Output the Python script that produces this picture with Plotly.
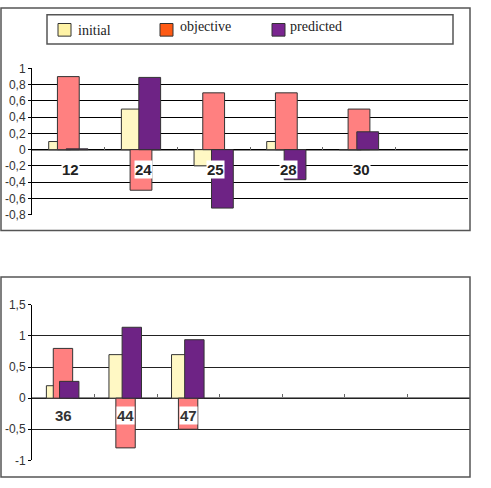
import plotly.graph_objects as go

W, H = 491, 488

# ---- data ----
cats_top = ["12", "24", "25", "28", "30"]
initial_top = [0.1, 0.5, -0.2, 0.1, 0.0]
objective_top = [0.9, -0.5, 0.7, 0.7, 0.5]
predicted_top = [0.01, 0.89, -0.72, -0.37, 0.22]

cats_bot = ["36", "44", "47"]
initial_bot = [0.2, 0.7, 0.7]
objective_bot = [0.8, -0.8, -0.5]
predicted_bot = [0.27, 1.14, 0.94]

ytick_top_vals = [1, 0.8, 0.6, 0.4, 0.2, 0, -0.2, -0.4, -0.6, -0.8]
ytick_top_text = ["1", "0,8", "0,6", "0,4", "0,2", "0", "-0,2", "-0,4", "-0,6", "-0,8"]
ytick_bot_vals = [1.5, 1, 0.5, 0, -0.5, -1]
ytick_bot_text = ["1,5", "1", "0,5", "0", "-0,5", "-1"]

series_names = ["initial", "objective", "predicted"]
bar_colors = ["#FFF8C4", "#FF8080", "#6E2385"]
legend_colors = ["#FFF3A6", "#FF5A14", "#7A2590"]


def px_x(p):
    return p / W


def px_y(p):
    return 1 - p / H


fig = go.Figure()

top_series = [initial_top, objective_top, predicted_top]
bot_series = [initial_bot, objective_bot, predicted_bot]
offs_top = [-0.27, -0.15, -0.03]
offs_bot = [-0.27, -0.16, -0.06]

for i, name in enumerate(series_names):
    fig.add_trace(go.Bar(
        x=cats_top, y=top_series[i], name=name, xaxis="x", yaxis="y",
        width=0.30, offset=offs_top[i], showlegend=False,
        marker=dict(color=bar_colors[i], line=dict(color="#333333", width=1)),
    ))
for i, name in enumerate(series_names):
    fig.add_trace(go.Bar(
        x=cats_bot, y=bot_series[i], name=name, xaxis="x2", yaxis="y2",
        width=0.31, offset=offs_bot[i], showlegend=False,
        marker=dict(color=bar_colors[i], line=dict(color="#333333", width=1)),
    ))

top_cat_all = cats_top + [" "]
bot_cat_all = cats_bot + [" ", "  ", "   ", "    "]

fig.update_layout(
    width=W, height=H,
    margin=dict(l=0, r=0, t=0, b=0),
    paper_bgcolor="white", plot_bgcolor="white",
    barmode="overlay",
    showlegend=False,
    xaxis=dict(
        domain=[px_x(32), px_x(468)],
        type="category", categoryorder="array", categoryarray=top_cat_all,
        range=[-0.5, len(top_cat_all) - 0.5],
        anchor="free", position=px_y(146.9),
        showticklabels=False, showgrid=False, zeroline=False,
        showline=True, linecolor="#888888", linewidth=1,
        ticks="inside", ticklen=3, tickcolor="#666666", tickson="boundaries",
        layer="below traces",
    ),
    yaxis=dict(
        domain=[px_y(213.7), px_y(63.3)],
        range=[-0.8, 1], anchor="x",
        tickvals=ytick_top_vals, ticktext=ytick_top_text,
        tickfont=dict(family="Liberation Sans", size=12, color="#333333"),
        showgrid=True, gridcolor="#000000", gridwidth=1,
        zeroline=False,
        showline=True, linecolor="#000000", linewidth=1,
        ticks="outside", ticklen=3, tickcolor="#000000",
    ),
    xaxis2=dict(
        domain=[px_x(32), px_x(470)],
        type="category", categoryorder="array", categoryarray=bot_cat_all,
        range=[-0.5, len(bot_cat_all) - 0.5],
        anchor="free", position=px_y(402),
        showticklabels=False, showgrid=False, zeroline=False,
        showline=True, linecolor="#888888", linewidth=1,
        ticks="inside", ticklen=3, tickcolor="#666666", tickson="boundaries",
        layer="below traces",
    ),
    yaxis2=dict(
        domain=[px_y(466.7), px_y(306.7)],
        range=[-1, 1.5], anchor="x2",
        tickvals=ytick_bot_vals, ticktext=ytick_bot_text,
        tickfont=dict(family="Liberation Sans", size=12, color="#333333"),
        showgrid=True, gridcolor="#222222", gridwidth=1,
        zeroline=False,
        showline=True, linecolor="#000000", linewidth=1,
        ticks="outside", ticklen=3, tickcolor="#000000",
    ),
)

shapes = []
# frames
shapes.append(dict(type="rect", xref="paper", yref="paper",
                   x0=px_x(1), x1=px_x(470), y0=px_y(230), y1=px_y(1),
                   line=dict(color="#555555", width=1.5)))
shapes.append(dict(type="rect", xref="paper", yref="paper",
                   x0=px_x(1), x1=px_x(470), y0=px_y(484), y1=px_y(278),
                   line=dict(color="#555555", width=1.5)))
# legend box
shapes.append(dict(type="rect", xref="paper", yref="paper",
                   x0=px_x(47), x1=px_x(453), y0=px_y(38), y1=px_y(8),
                   line=dict(color="#555555", width=1.5)))

annotations = []
leg_marker_x = [58, 160, 272]
leg_text_x = [76, 178, 288]
leg_text_y = [24, 20, 20]
for i, name in enumerate(series_names):
    shapes.append(dict(type="rect", xref="paper", yref="paper",
                       x0=px_x(leg_marker_x[i]), x1=px_x(leg_marker_x[i] + 13),
                       y0=px_y(30), y1=px_y(17),
                       fillcolor=legend_colors[i],
                       line=dict(color="#333333", width=1)))
    annotations.append(dict(xref="paper", yref="paper",
                            x=px_x(leg_text_x[i]), y=px_y(leg_text_y[i]),
                            xanchor="left", yanchor="middle", showarrow=False,
                            text=name,
                            font=dict(family="Liberation Serif", size=14, color="#222222")))

# category labels (annotations on category axes use the category index)
for idx, c in enumerate(cats_top):
    annotations.append(dict(xref="x", yref="y", x=idx + 0.03, y=-0.24, text="<b>%s</b>" % c,
                            showarrow=False, bgcolor="white", borderpad=0,
                            font=dict(family="Liberation Sans", size=15, color="#222222")))
for idx, c in enumerate(cats_bot):
    annotations.append(dict(xref="x2", yref="y2", x=idx, y=-0.28, text="<b>%s</b>" % c,
                            showarrow=False, bgcolor="white", borderpad=0,
                            font=dict(family="Liberation Sans", size=15, color="#333333")))

fig.update_layout(shapes=shapes, annotations=annotations)

fig.write_html("out.html")
